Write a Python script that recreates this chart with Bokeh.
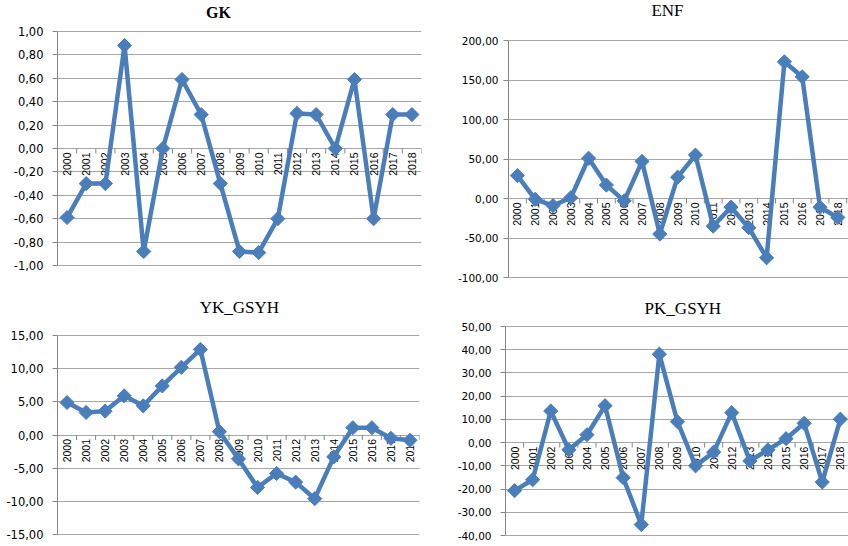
import numpy as np
from bokeh.plotting import figure
from bokeh.models import ColumnDataSource, FixedTicker, CustomJSTickFormatter, Label, Range1d
from bokeh.layouts import column, row
from bokeh.embed import file_html
from bokeh.resources import INLINE
from bokeh.core.properties import value

# ---------------- data ----------------
years = ["2000", "2001", "2002", "2003", "2004", "2005", "2006", "2007", "2008", "2009",
         "2010", "2011", "2012", "2013", "2014", "2015", "2016", "2017", "2018"]

gk = [-0.59, -0.30, -0.30, 0.88, -0.88, 0.00, 0.59, 0.29, -0.30, -0.88,
      -0.89, -0.60, 0.30, 0.29, 0.00, 0.59, -0.60, 0.29, 0.29]
enf = [29.0, -1.0, -9.0, 1.0, 51.0, 17.0, -3.0, 47.0, -45.0, 27.0,
       55.0, -35.0, -11.0, -37.0, -75.0, 173.0, 154.0, -11.0, -24.0]
yk_gsyh = [4.9, 3.4, 3.6, 5.9, 4.4, 7.4, 10.2, 12.9, 0.5, -3.6,
           -7.9, -5.8, -7.1, -9.6, -3.3, 1.1, 1.1, -0.5, -0.8]
pk_gsyh = [-20.7, -16.0, 13.6, -3.1, 3.4, 15.9, -15.1, -35.3, 38.1, 9.0,
           -10.0, -4.1, 12.9, -7.9, -3.1, 1.7, 8.3, -17.0, 10.1]

gk_ticks = [-1.0, -0.8, -0.6, -0.4, -0.2, 0.0, 0.2, 0.4, 0.6, 0.8, 1.0]
enf_ticks = [-100, -50, 0, 50, 100, 150, 200]
yk_ticks = [-15, -10, -5, 0, 5, 10, 15]
pk_ticks = [-40, -30, -20, -10, 0, 10, 20, 30, 40, 50]

LINE_COLOR = "#4a7ebb"
GRID_COLOR = "#a6a6a6"
AXIS_COLOR = "#868686"


def make_panel(title, vals, ticks, width, height, left, right, top_px, bot_px,
               x_end, label_size, standoff, title_x, title_cy, title_bold, title_size):
    """top_px / bot_px: pixel rows (from canvas top) of the highest / lowest tick."""
    ymin, ymax = ticks[0], ticks[-1]
    per_px = (ymax - ymin) / (bot_px - top_px)
    y_end = ymax + per_px * top_px
    y_start = ymin - per_px * (height - bot_px)
    p = figure(width=width, height=height,
               x_range=Range1d(-0.5, x_end), y_range=Range1d(y_start, y_end),
               x_axis_location=None, toolbar_location=None, output_backend="svg",
               min_border_left=left, min_border_right=right,
               min_border_top=0, min_border_bottom=0,
               outline_line_color=None, background_fill_color="white",
               border_fill_color="white")
    p.title = None
    for g in p.xgrid:
        g.visible = False
    p.yaxis.ticker = FixedTicker(ticks=ticks)
    p.yaxis.bounds = (ymin, ymax)
    p.yaxis.formatter = CustomJSTickFormatter(code="return tick.toFixed(2).replace('.', ',');")
    p.yaxis.major_label_text_font = "DejaVu Sans"
    p.yaxis.major_label_text_font_size = label_size
    p.yaxis.major_label_text_color = "#000000"
    p.yaxis.axis_line_color = AXIS_COLOR
    p.yaxis.major_tick_line_color = AXIS_COLOR
    p.yaxis.major_tick_out = 5
    p.yaxis.major_tick_in = 0
    p.yaxis.minor_tick_line_color = None
    p.yaxis.major_label_standoff = standoff
    p.ygrid.grid_line_color = GRID_COLOR
    p.ygrid.grid_line_width = 1

    idx = list(range(len(years)))
    src = ColumnDataSource(dict(x=idx, y=vals, year=years, zero=[0] * len(years)))

    # category separators on the zero line
    tick_len = per_px * 5.0
    bx = [i + 0.5 for i in idx]
    p.segment(x0=bx, y0=[0] * len(bx), x1=bx, y1=[-tick_len] * len(bx),
              line_color=AXIS_COLOR, line_width=1)

    # year labels
    p.text(x="x", y="zero", text="year", source=src, angle=np.pi / 2,
           text_align="right", text_baseline="middle", y_offset=4,
           text_font=value("Liberation Sans"), text_font_size="10.5px",
           text_color="#000000")

    p.line(x="x", y="y", source=src, line_color=LINE_COLOR, line_width=4.5,
           line_join="round")
    p.scatter(x="x", y="y", source=src, marker="square", angle=np.pi / 4, size=10,
              fill_color=LINE_COLOR, line_color=LINE_COLOR)

    # title: title_cy = pixel distance of title centre from canvas top
    title_y = y_end - per_px * title_cy
    p.add_layout(Label(x=title_x, y=title_y, text=title,
                       text_align="center", text_baseline="middle",
                       text_font="Liberation Serif", text_font_size=title_size,
                       text_font_style="bold" if title_bold else "normal",
                       text_color="#000000"))
    return p


p1 = make_panel("GK", gk, gk_ticks, 448, 298, 57, 27, 31, 265,
                18.5, "11.5px", 9, 7.9, 12, True, "16px")
p2 = make_panel("ENF", enf, enf_ticks, 400, 298, 60, 0, 40, 277,
                18.6, "10.5px", 5, 8.43, 10, False, "17px")
p3 = make_panel("YK_GSYH", yk_gsyh, yk_ticks, 448, 248, 57, 29, 37, 236,
                18.5, "11.5px", 9, 9.05, 9, False, "17px")
p4 = make_panel("PK_GSYH", pk_gsyh, pk_ticks, 400, 248, 57, 0, 28, 237,
                18.45, "10.5px", 9, 9.3, 10, False, "17px")

layout = column(row(p1, p2, spacing=0), row(p3, p4, spacing=0), spacing=0)

open("out.html", "w").write(file_html(layout, INLINE))
